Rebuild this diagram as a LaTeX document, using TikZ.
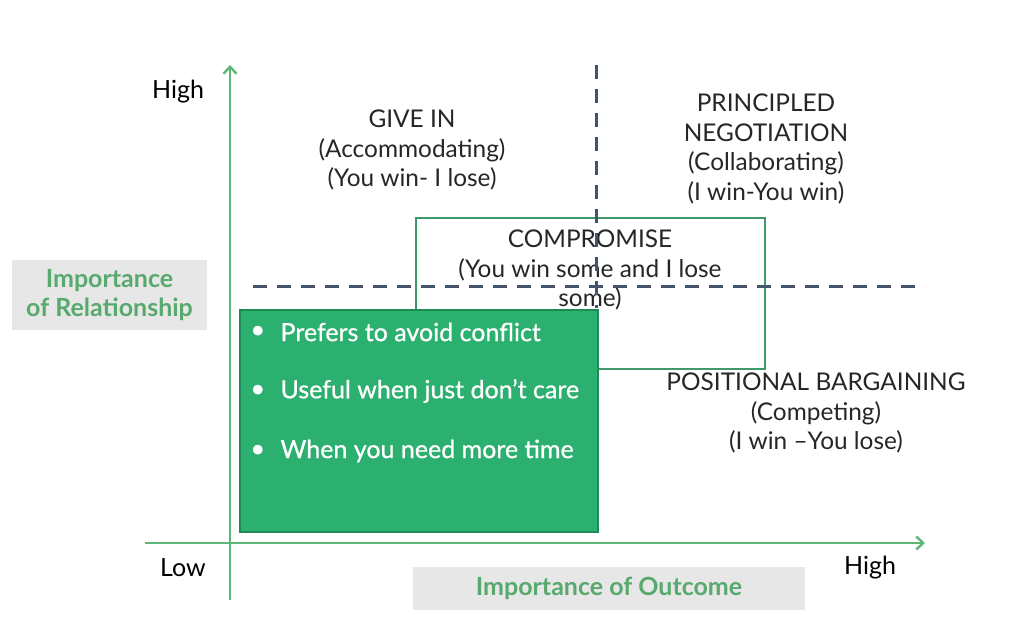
\documentclass[tikz,border=0pt]{standalone}
\usepackage{fontspec}
\setmainfont{Lato}
\newfontfamily\bulfont[FakeBold=0.8]{Lato}
\usetikzlibrary{arrows.meta}
\definecolor{axisgreen}{HTML}{5CB874}
\definecolor{labgreen}{HTML}{58A96E}
\definecolor{boxfill}{HTML}{2BB06F}
\definecolor{boxedge}{HTML}{1F8A55}
\definecolor{compedge}{HTML}{3D9A6B}
\definecolor{dashcol}{HTML}{44546A}
\definecolor{graybg}{HTML}{E7E7E7}
\definecolor{txt}{HTML}{262626}
\begin{document}
\begin{tikzpicture}[x=1pt,y=1pt,
  axisline/.style={draw=axisgreen,line width=2.4pt,-{Straight Barb[length=7pt,width=13pt,line width=2.4pt]}},
  dashline/.style={draw=dashcol,line width=3pt,dash pattern=on 14pt off 10pt},
  quad/.style={align=center,text=txt,font=\fontsize{24.4}{29.5}\selectfont},
  axlab/.style={align=center,text=labgreen,font=\fontsize{25}{28.5}\selectfont\bfseries},
  bul/.style={anchor=west,text=white,font=\bulfont\fontsize{25}{28}\selectfont},
  hl/.style={text=black,font=\fontsize{25}{28}\selectfont}]
\useasboundingbox (0,0) rectangle (1024,640);
% gray label boxes
\node[fill=graybg,minimum width=195pt,minimum height=70pt,inner sep=0pt] (relbox) at (109.5,345) {};
\node[axlab] (rel) at (relbox.center) {Importance\\of Relationship};
\node[fill=graybg,minimum width=392pt,minimum height=43pt,inner sep=0pt] (outbox) at (609,51.5) {};
\node[axlab] (out) at (outbox.center) {Importance of Outcome};
% compromise box
\node[draw=compedge,line width=1.6pt,minimum width=349pt,minimum height=151pt,inner sep=0pt] (comp) at (590.5,346.5) {};
\node[quad] (comptext) at (590,370) {COMPROMISE\\(You win some and I lose\\some)};
% axes
\coordinate (vb) at (230,40);
\coordinate (vt) at (230,575);
\coordinate (hl) at (145,97);
\coordinate (hr) at (925,97);
\draw[axisline] (vb) -- (vt);
\draw[axisline] (hl) -- (hr);
% dashed lines
\coordinate (dvt) at (596,575);
\coordinate (dvb) at (596,332);
\coordinate (dhl) at (253,353);
\coordinate (dhr) at (918,353);
\draw[dashline] (dvt) -- (dvb);
\draw[dashline] (dhl) -- (dhr);
% green box
\node[fill=boxfill,draw=boxedge,line width=1.2pt,minimum width=358pt,minimum height=222pt,inner sep=0pt] (avoid) at (419,219) {};
\node[bul] (b1) at (247,308) {•};
\node[bul] (t1) at (277,308) {Prefers to avoid conflict};
\node[bul] (b2) at (247,249) {•};
\node[bul] (t2) at (277,249) {Useful when just don’t care};
\node[bul] (b3) at (247,189) {•};
\node[bul] (t3) at (277,189) {When you need more time};
% quadrant labels
\node[quad] (givein) at (412,490) {GIVE IN\\(Accommodating)\\(You win- I lose)};
\node[quad] (princ) at (766,491) {PRINCIPLED\\NEGOTIATION\\(Collaborating)\\(I win-You win)};
\node[quad] (posit) at (816,227) {POSITIONAL BARGAINING\\(Competing)\\(I win –You lose)};
% axis end labels
\node[hl] (hightop) at (178,548) {High};
\node[hl] (low) at (183,72) {Low};
\node[hl] (highright) at (870,72) {High};
\end{tikzpicture}
\end{document}
